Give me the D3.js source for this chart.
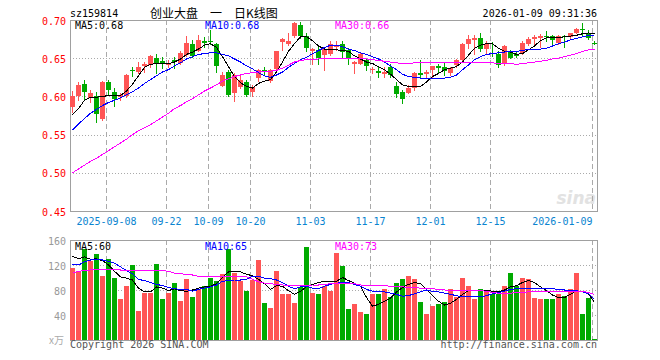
<!DOCTYPE html>
<html>
<head>
<meta charset="utf-8">
<script src="https://cdn.jsdelivr.net/npm/d3@7"></script>
<style>
  body { margin: 0; background: #fff; }
  text { font-family: "DejaVu Sans Mono", monospace; font-size: 10px; }
</style>
</head>
<body>
<svg id="chart" width="660" height="360"></svg>
<script>
// ---------------- DATA ----------------
const dates = [
  "2025-08-29",
  "2025-09-01", "2025-09-02", "2025-09-03", "2025-09-04", "2025-09-05",
  "2025-09-08", "2025-09-09", "2025-09-10", "2025-09-11", "2025-09-12",
  "2025-09-15", "2025-09-16", "2025-09-17", "2025-09-18", "2025-09-19",
  "2025-09-22", "2025-09-23", "2025-09-24", "2025-09-25", "2025-09-26",
  "2025-09-29", "2025-09-30",
  "2025-10-09", "2025-10-10",
  "2025-10-13", "2025-10-14", "2025-10-15", "2025-10-16", "2025-10-17",
  "2025-10-20", "2025-10-21", "2025-10-22", "2025-10-23", "2025-10-24",
  "2025-10-27", "2025-10-28", "2025-10-29", "2025-10-30", "2025-10-31",
  "2025-11-03", "2025-11-04", "2025-11-05", "2025-11-06", "2025-11-07",
  "2025-11-10", "2025-11-11", "2025-11-12", "2025-11-13", "2025-11-14",
  "2025-11-17", "2025-11-18", "2025-11-19", "2025-11-20", "2025-11-21",
  "2025-11-24", "2025-11-25", "2025-11-26", "2025-11-27", "2025-11-28",
  "2025-12-01", "2025-12-02", "2025-12-03", "2025-12-04", "2025-12-05",
  "2025-12-08", "2025-12-09", "2025-12-10", "2025-12-11", "2025-12-12",
  "2025-12-15", "2025-12-16", "2025-12-17", "2025-12-18", "2025-12-19",
  "2025-12-22", "2025-12-23", "2025-12-24", "2025-12-25", "2025-12-26",
  "2025-12-29", "2025-12-30", "2025-12-31",
  "2026-01-05", "2026-01-06", "2026-01-07", "2026-01-08", "2026-01-09"
];

const open = [
  0.586, 0.600, 0.616, 0.599, 0.600, 0.570, 0.619, 0.606, 0.599, 0.600,
  0.635, 0.632, 0.640, 0.641, 0.650, 0.646, 0.642, 0.648, 0.644, 0.654,
  0.669, 0.660, 0.673, 0.673, 0.669, 0.614, 0.632, 0.604, 0.613, 0.619,
  0.605, 0.623, 0.634, 0.620, 0.635, 0.671, 0.669, 0.679, 0.693, 0.679,
  0.659, 0.661, 0.654, 0.656, 0.665, 0.669, 0.661, 0.643, 0.643, 0.647,
  0.635, 0.633, 0.630, 0.639, 0.613, 0.606, 0.605, 0.611, 0.631, 0.629,
  0.635, 0.640, 0.639, 0.630, 0.641, 0.648, 0.669, 0.675, 0.677, 0.662,
  0.657, 0.656, 0.642, 0.660, 0.656, 0.657, 0.669, 0.676, 0.677, 0.679,
  0.679, 0.670, 0.679, 0.678, 0.683, 0.688, 0.683, 0.670
];
const high = [
  0.607, 0.619, 0.622, 0.608, 0.606, 0.620, 0.621, 0.611, 0.605, 0.629,
  0.639, 0.645, 0.645, 0.654, 0.656, 0.652, 0.648, 0.651, 0.659, 0.679,
  0.674, 0.680, 0.678, 0.687, 0.670, 0.632, 0.635, 0.630, 0.628, 0.621,
  0.615, 0.636, 0.639, 0.636, 0.660, 0.676, 0.683, 0.697, 0.697, 0.683,
  0.663, 0.666, 0.663, 0.672, 0.673, 0.672, 0.663, 0.646, 0.657, 0.650,
  0.639, 0.639, 0.639, 0.643, 0.619, 0.608, 0.615, 0.632, 0.648, 0.635,
  0.640, 0.643, 0.645, 0.639, 0.649, 0.670, 0.680, 0.680, 0.683, 0.672,
  0.671, 0.659, 0.667, 0.661, 0.660, 0.672, 0.678, 0.680, 0.682, 0.686,
  0.680, 0.680, 0.680, 0.683, 0.689, 0.696, 0.687, 0.673
];
const low = [
  0.579, 0.595, 0.595, 0.593, 0.567, 0.569, 0.602, 0.587, 0.595, 0.599,
  0.627, 0.630, 0.632, 0.639, 0.631, 0.637, 0.639, 0.637, 0.643, 0.653,
  0.652, 0.659, 0.665, 0.669, 0.632, 0.613, 0.600, 0.594, 0.611, 0.600,
  0.601, 0.620, 0.628, 0.619, 0.635, 0.661, 0.667, 0.678, 0.676, 0.660,
  0.643, 0.643, 0.635, 0.654, 0.661, 0.652, 0.643, 0.631, 0.643, 0.635,
  0.631, 0.625, 0.626, 0.626, 0.599, 0.592, 0.604, 0.608, 0.625, 0.624,
  0.626, 0.632, 0.628, 0.628, 0.639, 0.647, 0.664, 0.656, 0.660, 0.656,
  0.653, 0.638, 0.641, 0.650, 0.651, 0.656, 0.667, 0.669, 0.665, 0.673,
  0.667, 0.669, 0.665, 0.676, 0.683, 0.680, 0.675, 0.669
];
const close = [
  0.600, 0.615, 0.605, 0.605, 0.576, 0.619, 0.609, 0.597, 0.602, 0.628,
  0.634, 0.638, 0.642, 0.653, 0.643, 0.643, 0.644, 0.646, 0.657, 0.670,
  0.653, 0.674, 0.670, 0.672, 0.640, 0.628, 0.602, 0.628, 0.622, 0.602,
  0.612, 0.634, 0.633, 0.635, 0.659, 0.675, 0.673, 0.696, 0.679, 0.663,
  0.662, 0.650, 0.662, 0.669, 0.667, 0.659, 0.650, 0.645, 0.656, 0.639,
  0.636, 0.631, 0.632, 0.628, 0.602, 0.597, 0.611, 0.630, 0.629, 0.632,
  0.640, 0.638, 0.634, 0.637, 0.648, 0.669, 0.675, 0.677, 0.662, 0.669,
  0.656, 0.642, 0.666, 0.651, 0.654, 0.670, 0.675, 0.678, 0.679, 0.678,
  0.674, 0.679, 0.678, 0.683, 0.688, 0.687, 0.676, 0.669
];

// moving averages as drawn on the picture
const ma5 = [
  0.576, 0.584, 0.595, 0.599, 0.599, 0.600, 0.601, 0.601, 0.601, 0.607,
  0.616, 0.627, 0.638, 0.642, 0.643, 0.643, 0.643, 0.645, 0.649, 0.655,
  0.658, 0.662, 0.667, 0.669, 0.664, 0.652, 0.639, 0.626, 0.618, 0.613,
  0.611, 0.617, 0.620, 0.622, 0.632, 0.645, 0.659, 0.669, 0.678, 0.678,
  0.673, 0.666, 0.662, 0.661, 0.661, 0.660, 0.659, 0.653, 0.649, 0.645,
  0.643, 0.639, 0.635, 0.629, 0.622, 0.615, 0.613, 0.613, 0.613, 0.619,
  0.626, 0.630, 0.635, 0.637, 0.639, 0.645, 0.654, 0.663, 0.667, 0.669,
  0.669, 0.663, 0.659, 0.658, 0.655, 0.656, 0.661, 0.666, 0.673, 0.677,
  0.677, 0.677, 0.678, 0.679, 0.680, 0.682, 0.683, 0.682
];
const ma10 = [
  0.556, 0.564, 0.571, 0.578, 0.583, 0.588, 0.592, 0.595, 0.598, 0.602,
  0.606, 0.611, 0.617, 0.622, 0.627, 0.632, 0.635, 0.640, 0.644, 0.649,
  0.652, 0.655, 0.656, 0.657, 0.657, 0.655, 0.653, 0.649, 0.645, 0.640,
  0.636, 0.631, 0.627, 0.625, 0.628, 0.632, 0.638, 0.643, 0.648, 0.651,
  0.656, 0.660, 0.664, 0.667, 0.667, 0.665, 0.662, 0.660, 0.657, 0.655,
  0.652, 0.649, 0.645, 0.640, 0.635, 0.629, 0.626, 0.625, 0.624, 0.624,
  0.624, 0.624, 0.624, 0.625, 0.628, 0.635, 0.641, 0.648, 0.652, 0.655,
  0.656, 0.657, 0.658, 0.659, 0.659, 0.660, 0.662, 0.662, 0.662, 0.663,
  0.666, 0.669, 0.671, 0.674, 0.676, 0.678, 0.680, 0.679
];
const ma30 = [
  0.500, 0.505, 0.510, 0.515, 0.519, 0.524, 0.529, 0.534, 0.539, 0.544,
  0.550, 0.555, 0.559, 0.563, 0.568, 0.573, 0.578, 0.584, 0.588, 0.593,
  0.597, 0.602, 0.607, 0.611, 0.615, 0.620, 0.623, 0.626, 0.628, 0.630,
  0.631, 0.632, 0.632, 0.633, 0.634, 0.637, 0.641, 0.645, 0.647, 0.648,
  0.648, 0.649, 0.649, 0.649, 0.649, 0.650, 0.650, 0.650, 0.649, 0.649,
  0.648, 0.647, 0.646, 0.645, 0.644, 0.643, 0.643, 0.644, 0.644, 0.644,
  0.645, 0.645, 0.645, 0.645, 0.645, 0.644, 0.644, 0.644, 0.644, 0.644,
  0.644, 0.643, 0.643, 0.643, 0.642, 0.643, 0.644, 0.645, 0.646, 0.647,
  0.649, 0.650, 0.652, 0.654, 0.656, 0.659, 0.661, 0.662
];

// volume, x万
const volume = [
  116, 110, 146, 126, 138, 102, 129,  99,  65,  86,
  120,  46,  75,  75, 122,  65,  76,  91,  63,  97,
   69,  82,  86,  99,  95, 106, 146, 107,  95,  78,
   96, 128,  60,  51, 111,  73,  73,  59,  85, 149,
   76,  74,  86,  79, 139, 119,  49,  57,  45,  42,
   74,  73,  82,  69,  92,  98, 102,  98,  61,  42,
   55,  58,  61,  82,  69, 100,  86,  66,  82,  79,
   74,  74,  86, 108,  86, 100,  97,  68,  66,  66,
   66,  73,  71,  82, 107,  42,  68,   1
];
const vma5 = [
  134, 130, 133, 129, 130, 127, 120, 110, 101,  99,
   96,  83,  77,  77,  85,  83,  79,  82,  79,  78,
   80,  83,  85,  86,  90, 100, 109, 110, 109, 105,
  103,  97,  90,  81,  87,  86,  79,  73,  78,  85,
   89,  92,  94,  94,  94, 100,  95,  91,  86,  68,
   54,  57,  62,  67,  77,  84,  89,  92,  90,  81,
   71,  62,  56,  59,  65,  73,  79,  80,  80,  80,
   78,  77,  80,  85,  87,  92,  95,  92,  85,  79,
   72,  68,  68,  73,  79,  77,  74,  60
];
const vma10 = [
  121, 120, 125, 128, 129, 128, 126, 123, 117, 111,
  106,  97,  95,  92,  89,  87,  84,  82,  81,  81,
   78,  81,  83,  85,  88,  94,  95,  96,  96,  97,
  102, 102,  99,  98,  96,  92,  86,  82,  85,  86,
   83,  82,  86,  89,  91,  92,  92,  89,  86,  81,
   78,  78,  77,  75,  73,  70,  71,  74,  77,  80,
   78,  77,  75,  73,  71,  69,  69,  69,  69,  71,
   74,  76,  78,  81,  82,  83,  83,  83,  83,  83,
   82,  81,  80,  80,  79,  77,  74,  65
];
const vma30 = [
  107, 110, 111, 112, 113, 113, 113, 113, 112, 112,
  112, 112, 112, 112, 112, 111, 110, 107, 106, 105,
  104, 102, 101, 101, 102, 102, 102, 101, 101, 101,
   97,  93,  91,  90,  89,  88,  87,  87,  87,  87,
   88,  88,  89,  90,  91,  91,  91,  90,  88,  87,
   87,  87,  87,  86,  86,  85,  84,  84,  83,  82,
   82,  81,  80,  79,  79,  79,  79,  79,  79,  78,
   76,  75,  75,  75,  76,  76,  77,  78,  78,  78,
   78,  78,  78,  78,  78,  78,  76,  73
];

const tickDates = ["2025-09-08", "2025-09-22", "2025-10-09", "2025-10-20", "2025-11-03",
                   "2025-11-17", "2025-12-01", "2025-12-15", "2026-01-09"];
const tickLabels = ["2025-09-08", "09-22", "10-09", "10-20", "11-03",
                    "11-17", "12-01", "12-15", "2026-01-09"];
const priceTicks = [0.70, 0.65, 0.60, 0.55, 0.50, 0.45];
const volTicks = [160, 120, 80, 40];

// ---------------- LAYOUT ----------------
const svg = d3.select("#chart");
const left = 70, right = 597;
const pTop = 20, pBottom = 211;
const vTop = 240, vBottom = 340;
const up = "#ff5555", down = "#00aa00", gridColor = "#aaaaaa", frameColor = "#a0a0a0";

const x = d3.scaleBand().domain(dates).range([left, left + dates.length * 6]);
const yP = d3.scaleLinear().domain([0.45, 0.70]).range([pBottom, pTop]);
const yV = d3.scaleLinear().domain([0, 160]).range([vBottom, vTop]);
const idx = d3.range(dates.length);

// ---------------- HEADER ----------------
svg.append("text").attr("x", 70).attr("y", 17).text("sz159814");
svg.append("text").attr("x", 150).attr("y", 18)
  .style("font-family", "'Noto Sans CJK SC', sans-serif").style("font-size", "12px")
  .style("white-space", "pre")
  .text("创业大盘\u3000一\u3000日K线图");
svg.append("text").attr("x", 597).attr("y", 17).attr("text-anchor", "end")
  .text("2026-01-09 09:31:36");

// watermark
svg.append("text").attr("x", 596).attr("y", 204).attr("text-anchor", "end")
  .style("font-family", "'DejaVu Sans', sans-serif").style("font-size", "17px")
  .style("font-style", "italic").style("font-weight", "bold")
  .attr("fill", "#e2e2e2").text("sina");

// ---------------- GRID ----------------
const grid = svg.append("g").attr("shape-rendering", "crispEdges");

grid.selectAll(".hp").data(priceTicks.slice(1, -1)).enter().append("line")
  .attr("x1", left).attr("x2", right)
  .attr("y1", d => Math.round(yP(d)) + 0.5).attr("y2", d => Math.round(yP(d)) + 0.5)
  .attr("stroke", gridColor).attr("stroke-dasharray", "1,2");

grid.selectAll(".hv").data(volTicks.slice(1)).enter().append("line")
  .attr("x1", left).attr("x2", right)
  .attr("y1", d => Math.round(yV(d)) + 0.5).attr("y2", d => Math.round(yV(d)) + 0.5)
  .attr("stroke", gridColor).attr("stroke-dasharray", "1,2");

[[pTop, pBottom], [vTop, vBottom]].forEach(([t, b]) => {
  grid.selectAll(null).data(tickDates).enter().append("line")
    .attr("x1", d => x(d) + 0.5).attr("x2", d => x(d) + 0.5)
    .attr("y1", t).attr("y2", b)
    .attr("stroke", gridColor).attr("stroke-dasharray", "5,3");
  grid.append("rect").attr("x", left + 0.5).attr("y", t + 0.5)
    .attr("width", right - left).attr("height", b - t)
    .attr("fill", "none").attr("stroke", frameColor);
});

// ---------------- AXIS LABELS ----------------
svg.selectAll(".pl").data(priceTicks).enter().append("text")
  .attr("x", 66).attr("y", d => yP(d) + 4.5).attr("text-anchor", "end")
  .attr("fill", "#ff0000").text(d => d.toFixed(2));

svg.selectAll(".vl").data(volTicks).enter().append("text")
  .attr("x", 66).attr("y", d => yV(d) + 4.5).attr("text-anchor", "end")
  .attr("fill", "#999999").text(d => d);
svg.append("text").attr("x", 64).attr("y", 344).attr("text-anchor", "end")
  .attr("fill", "#aaaaaa").style("font-family", "'Noto Sans CJK SC', sans-serif")
  .style("font-size", "10px").text("x万");

svg.selectAll(".dl").data(tickDates).enter().append("text")
  .attr("x", d => x(d) + 0.5).attr("y", 225)
  .attr("text-anchor", (d, i) => i === tickDates.length - 1 ? "end" : "middle")
  .attr("fill", "#0a84d0").text((d, i) => tickLabels[i]);

// ---------------- CANDLES ----------------
const color = i => (close[i] >= open[i] ? up : down);
const cg = svg.append("g").attr("shape-rendering", "crispEdges");

cg.selectAll(".wick").data(idx).enter().append("line")
  .attr("x1", i => x(dates[i]) + 2.5).attr("x2", i => x(dates[i]) + 2.5)
  .attr("y1", i => Math.round(yP(high[i]))).attr("y2", i => Math.round(yP(low[i])) + 1)
  .attr("stroke", color);

cg.selectAll(".body").data(idx).enter().append("rect")
  .attr("x", i => x(dates[i]))
  .attr("y", i => Math.round(yP(Math.max(open[i], close[i]))))
  .attr("width", 5)
  .attr("height", i => Math.max(1, Math.round(Math.abs(yP(open[i]) - yP(close[i])))))
  .attr("fill", color);

// ---------------- VOLUME BARS ----------------
cg.selectAll(".vol").data(idx).enter().append("rect")
  .attr("x", i => x(dates[i]))
  .attr("y", i => Math.round(yV(volume[i])))
  .attr("width", 5)
  .attr("height", i => vBottom - Math.round(yV(volume[i])))
  .attr("fill", color);

// ---------------- MA LINES ----------------
const lines = svg.append("g").attr("fill", "none").attr("shape-rendering", "crispEdges");
const maSets = [
  [ma5, vma5, "#000000"],
  [ma10, vma10, "#0000ff"],
  [ma30, vma30, "#ff00ff"]
];
maSets.forEach(([pm, vm, c]) => {
  lines.append("path").attr("stroke", c)
    .attr("d", d3.line().x(i => x(dates[i]) + 2.5).y(i => yP(pm[i]))(idx));
  lines.append("path").attr("stroke", c)
    .attr("d", d3.line().x(i => x(dates[i]) + 2.5).y(i => yV(vm[i]))(idx));
});

// ---------------- LEGENDS ----------------
const last = dates.length - 1;
const legendX = [75, 205, 335];
const legendNames = ["MA5", "MA10", "MA30"];
maSets.forEach(([pm, vm, c], k) => {
  svg.append("text").attr("x", legendX[k]).attr("y", 29).attr("fill", c)
    .text(`${legendNames[k]}:${pm[last].toFixed(2)}`);
  svg.append("text").attr("x", legendX[k]).attr("y", 250).attr("fill", c)
    .text(`${legendNames[k]}:${Math.round(vm[last])}`);
});

// ---------------- FOOTER ----------------
svg.append("text").attr("x", 70).attr("y", 348).attr("fill", "#555555")
  .text("Copyright 2026 SINA.COM");
svg.append("text").attr("x", 597).attr("y", 348).attr("text-anchor", "end")
  .attr("fill", "#555555").text("http://finance.sina.com.cn");
</script>
</body>
</html>
